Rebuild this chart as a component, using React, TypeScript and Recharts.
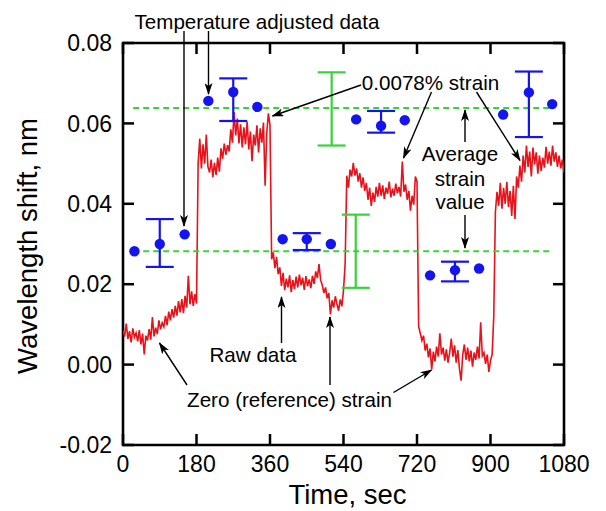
import React from "react";
import { ComposedChart, Line, Scatter, XAxis, YAxis, ErrorBar, ReferenceArea } from "recharts";

// axis ticks
const xTicks = [0, 180, 360, 540, 720, 900, 1080];
const yTicks = [-0.02, 0, 0.02, 0.04, 0.06, 0.08];

// raw data, one sample every 4 s, split by strain step
const rawStep = 4;
const rawZeroA = [
  0.0085, 0.0070, 0.0102, 0.0064, 0.0083, 0.0055, 0.0090, 0.0068, 0.0079, 0.0058,
  0.0086, 0.0050, 0.0077, 0.0025, 0.0072, 0.0060, 0.0088, 0.0062, 0.0118, 0.0070,
  0.0092, 0.0076, 0.0110, 0.0088, 0.0104, 0.0094, 0.0121, 0.0098, 0.0132, 0.0110,
  0.0138, 0.0117, 0.0146, 0.0122, 0.0158, 0.0130, 0.0163, 0.0128, 0.0171, 0.0142,
  0.0221, 0.0150, 0.0182, 0.0146, 0.0175, 0.0152,
];
const rawStrainA = [
  0.0500, 0.0562, 0.0488, 0.0548, 0.0500, 0.0572, 0.0492, 0.0478, 0.0510, 0.0466,
  0.0502, 0.0472, 0.0515, 0.0480, 0.0538, 0.0512, 0.0550, 0.0522, 0.0546, 0.0530,
  0.0585, 0.0552, 0.0628, 0.0570, 0.0612, 0.0550, 0.0598, 0.0540, 0.0590, 0.0548,
  0.0604, 0.0535, 0.0580, 0.0506, 0.0572, 0.0545, 0.0595, 0.0528, 0.0588, 0.0552,
  0.0602, 0.0445, 0.0575, 0.0625, 0.0595,
];
const rawZeroB = [
  0.0262, 0.0279, 0.0240, 0.0268, 0.0225, 0.0242, 0.0196, 0.0228, 0.0185, 0.0214,
  0.0192, 0.0222, 0.0180, 0.0210, 0.0188, 0.0219, 0.0192, 0.0224, 0.0198, 0.0216,
  0.0186, 0.0220, 0.0195, 0.0212, 0.0190, 0.0221, 0.0201, 0.0232, 0.0215, 0.0250,
  0.0210, 0.0198, 0.0178, 0.0192, 0.0165, 0.0178, 0.0125, 0.0160, 0.0142, 0.0170,
  0.0150, 0.0134, 0.0162, 0.0145, 0.0185, 0.0250,
];
const rawStrainB = [
  0.0470, 0.0440, 0.0485, 0.0468, 0.0502, 0.0470, 0.0488, 0.0455, 0.0476, 0.0440,
  0.0466, 0.0432, 0.0452, 0.0410, 0.0440, 0.0395, 0.0428, 0.0405, 0.0442, 0.0418,
  0.0452, 0.0420, 0.0446, 0.0412, 0.0440, 0.0425, 0.0455, 0.0416, 0.0438, 0.0420,
  0.0450, 0.0426, 0.0442, 0.0418, 0.0505, 0.0430, 0.0448, 0.0410, 0.0432, 0.0383,
  0.0420, 0.0398, 0.0468, 0.0455,
];
const rawZeroC = [
  0.0095, 0.0078, 0.0060, 0.0072, 0.0035, 0.0052, 0.0018, 0.0040, -0.0012, 0.0032,
  0.0008, 0.0045, 0.0020, 0.0078, 0.0025, 0.0042, 0.0010, 0.0038, 0.0005, 0.0030,
  0.0065, 0.0020, 0.0048, 0.0005, 0.0036, -0.0010, -0.0040, 0.0025, 0.0050, 0.0012,
  0.0042, 0.0008, 0.0035, -0.0005, 0.0030, 0.0012, 0.0045, 0.0015, 0.0105, 0.0022,
  0.0030, 0.0002, 0.0025, -0.0018, 0.0010, 0.0025, 0.0120,
];
const rawStrainC = [
  0.0380, 0.0430, 0.0395, 0.0452, 0.0388, 0.0440, 0.0400, 0.0455, 0.0392, 0.0432,
  0.0370, 0.0445, 0.0362, 0.0468, 0.0440, 0.0495, 0.0455, 0.0520, 0.0478, 0.0545,
  0.0492, 0.0530, 0.0468, 0.0540, 0.0498, 0.0528, 0.0475, 0.0520, 0.0482, 0.0515,
  0.0490, 0.0542, 0.0500, 0.0530, 0.0495, 0.0545, 0.0505, 0.0528, 0.0492, 0.0520,
  0.0488, 0.0510, 0.0478,
];
const rawSegments: [number, number[]][] = [
  [0, rawZeroA], [184, rawStrainA], [364, rawZeroB],
  [548, rawStrainB], [724, rawZeroC], [912, rawStrainC],
];

// temperature adjusted points
const adjTime = [28, 90, 151, 209, 270, 329, 391, 450, 509, 571, 632, 690, 752, 813, 872, 931, 994, 1051];
const adjValue = [0.0282, 0.0300, 0.0324, 0.0656, 0.0678, 0.0641, 0.0312, 0.0312, 0.0300, 0.0610, 0.0594, 0.0608, 0.0222, 0.0235, 0.0239, 0.0622, 0.0677, 0.0648];
// error bars [minus, plus] on some of them
const adjErrIndex = [1, 4, 7, 10, 13, 16];
const adjErr = [[0.0057, 0.0062], [0.0072, 0.0034], [0.0027, 0.0015], [0.0017, 0.0037], [0.0028, 0.0021], [0.0111, 0.0052]];

// average strain levels and their spread
const avgLevels = [0.0638, 0.0282];
const avgStart = 25;
const avgEnd = 1050;
const spreadTime = [511, 570];
const spreadMid = [0.0636, 0.0282];
const spreadErr = [0.0091, 0.0091];

const rawData = rawSegments.flatMap(([start, vals]) => vals.map((v, i) => ({ t: start + i * rawStep, v })));
const adjData = adjTime.map((t, i) => ({ t, v: adjValue[i] }));
const adjErrData = adjErrIndex.map((idx, i) => ({ t: adjTime[idx], v: adjValue[idx], e: adjErr[i] }));
const avgLines = avgLevels.map((v) => [{ t: avgStart, v }, { t: avgEnd, v }]);
const spreadData = spreadTime.map((t, i) => ({ t, v: spreadMid[i], e: spreadErr[i] }));

const W = 606;
const H = 511;
const L = 123;
const R = 564;
const T = 43;
const B = 445;
const TICK = 11;
const FONT = "'Liberation Sans', Arial, sans-serif";
const RED = "#e8121a";
const BLUE = "#1414ee";
const GREEN = "#3ad23a";

const YTick = (props: any) => {
  const { y, payload } = props;
  return (
    <g>
      <text x={112} y={y} dy={8.2} textAnchor="end" fontSize={23} fontFamily={FONT} fill="#000">
        {payload.value.toFixed(2)}
      </text>
      <line x1={L} x2={L + TICK} y1={y} y2={y} stroke="#000" strokeWidth={2.5} />
      <line x1={R - TICK} x2={R} y1={y} y2={y} stroke="#000" strokeWidth={2.5} />
    </g>
  );
};

const XTick = (props: any) => {
  const { x, payload } = props;
  return (
    <g>
      <text x={x} y={472} textAnchor="middle" fontSize={23} fontFamily={FONT} fill="#000">
        {payload.value}
      </text>
      <line x1={x} x2={x} y1={B} y2={B - TICK} stroke="#000" strokeWidth={2.5} />
      <line x1={x} x2={x} y1={T} y2={T + TICK} stroke="#000" strokeWidth={2.5} />
    </g>
  );
};

const Dot = (props: any) => <circle cx={props.cx} cy={props.cy} r={5.2} fill={BLUE} />;
const NoShape = () => <g />;

const arrows = [
  [184, 31, 184, 226],
  [208.5, 31, 208.5, 94],
  [361, 85, 272.5, 116],
  [431.5, 92, 403.5, 158],
  [476.5, 92, 520, 160.5],
  [465, 142, 465, 110],
  [465, 215, 465, 248],
  [281.5, 343, 281.5, 297],
  [187, 385, 159.5, 343],
  [330, 385, 330, 317],
  [393.5, 392.5, 431.5, 370],
];

const notes = [
  { x: 257, y: 22, s: "Temperature adjusted data" },
  { x: 430.5, y: 82.5, s: "0.0078% strain" },
  { x: 460, y: 154, s: "Average" },
  { x: 460, y: 178.5, s: "strain" },
  { x: 460, y: 202, s: "value" },
  { x: 253, y: 355, s: "Raw data" },
  { x: 289.5, y: 400, s: "Zero (reference) strain" },
];

export default function App() {
  return (
    <div style={{ position: "fixed", left: 0, top: 0, width: W, height: H, background: "#fff" }}>
      <ComposedChart width={W} height={H} margin={{ top: T, right: W - R, bottom: 0, left: 0 }}>
        <XAxis
          type="number"
          dataKey="t"
          domain={[0, 1080]}
          ticks={xTicks}
          height={H - B}
          axisLine={false}
          tickLine={false}
          tick={XTick}
          allowDataOverflow
        />
        <YAxis
          type="number"
          dataKey="v"
          domain={[-0.02, 0.08]}
          ticks={yTicks}
          width={L}
          axisLine={false}
          tickLine={false}
          tick={YTick}
          allowDataOverflow
        />
        <Line data={rawData} dataKey="v" stroke={RED} strokeWidth={1.6} dot={false} isAnimationActive={false} />
        {avgLines.map((d, i) => (
          <Line
            key={`avg-${i}`}
            data={d}
            dataKey="v"
            stroke={GREEN}
            strokeWidth={2}
            strokeDasharray="6 4"
            dot={false}
            isAnimationActive={false}
          />
        ))}
        <Scatter data={spreadData} shape={NoShape} isAnimationActive={false}>
          <ErrorBar dataKey="e" direction="y" width={14} stroke={GREEN} strokeWidth={2.2} />
        </Scatter>
        <Scatter data={adjErrData} shape={NoShape} isAnimationActive={false}>
          <ErrorBar dataKey="e" direction="y" width={14} stroke={BLUE} strokeWidth={2.2} />
        </Scatter>
        <Scatter data={adjData} shape={Dot} isAnimationActive={false} />
        <ReferenceArea x1={0} x2={1080} y1={-0.02} y2={0.08} fill="none" stroke="#000" strokeWidth={2.6} fillOpacity={0} />
      </ComposedChart>
      <svg width={W} height={H} style={{ position: "absolute", left: 0, top: 0, pointerEvents: "none" }}>
        <defs>
          <marker id="ah" viewBox="0 0 12 8" refX={11} refY={4} markerWidth={12} markerHeight={8} markerUnits="userSpaceOnUse" orient="auto">
            <path d="M0,0 L12,4 L0,8 L3,4 z" fill="#000" />
          </marker>
        </defs>
        {arrows.map(([x1, y1, x2, y2], i) => (
          <line key={i} x1={x1} y1={y1} x2={x2} y2={y2} stroke="#000" strokeWidth={1.4} markerEnd="url(#ah)" />
        ))}
        {notes.map((n, i) => (
          <text key={i} x={n.x} y={n.y} dy={7.4} textAnchor="middle" fontSize={20.6} fontFamily={FONT} fill="#000">
            {n.s}
          </text>
        ))}
        <text x={347.5} y={494} dy={9.8} textAnchor="middle" fontSize={27.5} fontFamily={FONT} fill="#000">
          Time, sec
        </text>
        <text
          x={27.5}
          y={246}
          dy={9.8}
          textAnchor="middle"
          fontSize={27.5}
          fontFamily={FONT}
          fill="#000"
          transform="rotate(-90 27.5 246)"
        >
          Wavelength shift, nm
        </text>
      </svg>
    </div>
  );
}
